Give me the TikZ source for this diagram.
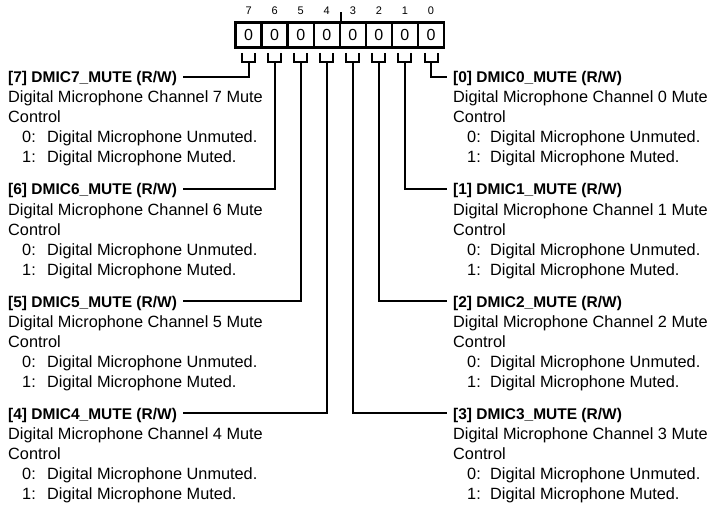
\documentclass[tikz,border=0pt]{standalone}
\usepackage{fontspec}
\setmainfont{Liberation Sans}
\begin{document}
\begin{tikzpicture}[x=1pt,y=-1pt,
  cellbox/.style={draw,line width=2.4pt,minimum width=26.06pt,minimum height=25pt,inner sep=0pt,font=\fontsize{16}{18}\selectfont},
  bitnum/.style={inner sep=0pt,font=\fontsize{11}{13}\selectfont},
  hdr/.style={inner sep=0pt,font=\fontsize{15.5}{18}\selectfont\bfseries},
  desc/.style={inner sep=0pt,font=\fontsize{16.3}{20}\selectfont},
  wire/.style={line width=2pt},
  brk/.style={line width=2pt}]
\useasboundingbox (0,0) rectangle (710,508);
% register cells
\foreach \b in {0,...,7}{
  \pgfmathsetmacro{\cx}{431-26.06*\b}
  \node[cellbox] (c\b) at (\cx,35.2) {0};
  \node[bitnum] (n\b) at (\cx,11) {\b};
  \coordinate (br\b) at (\cx,62);
  \draw[brk] (\cx-6.5,53) -- (\cx-6.5,62) -- (\cx+6.5,62) -- (\cx+6.5,53);
}
\draw[line width=1.3pt] (c4.north east) -- ++(0,-9);
% left fields: bits 7..4 ; right fields: bits 0..3
\foreach \b/\k in {7/0,6/1,5/2,4/3}{
  \pgfmathsetmacro{\L}{77+112*\k}
  \pgfmathsetmacro{\cx}{431-26.06*\b}
  \coordinate (l\b) at (\cx,\L);
  \node[hdr,anchor=base west] (h\b) at (8,\L+6) {[\b] DMIC\b\_MUTE (R/W)};
  \node[desc,anchor=base west] (d\b) at (8,\L+26) {Digital Microphone Channel \b{} Mute};
  \node[desc,anchor=base west] (t\b) at (8,\L+46) {Control};
  \node[desc,anchor=base west] (z\b) at (22,\L+66) {\makebox[25pt][l]{0:}Digital Microphone Unmuted.};
  \node[desc,anchor=base west] (o\b) at (22,\L+86) {\makebox[25pt][l]{1:}Digital Microphone Muted.};
  \draw[wire] (br\b) -- (l\b) -- ([xshift=6pt]h\b.east |- l\b);
}
\foreach \b/\k in {0/0,1/1,2/2,3/3}{
  \pgfmathsetmacro{\L}{77+112*\k}
  \pgfmathsetmacro{\cx}{431-26.06*\b}
  \coordinate (l\b) at (\cx,\L);
  \node[hdr,anchor=base west] (h\b) at (453,\L+6) {[\b] DMIC\b\_MUTE (R/W)};
  \node[desc,anchor=base west] (d\b) at (453,\L+26) {Digital Microphone Channel \b{} Mute};
  \node[desc,anchor=base west] (t\b) at (453,\L+46) {Control};
  \node[desc,anchor=base west] (z\b) at (467,\L+66) {\makebox[23pt][l]{0:}Digital Microphone Unmuted.};
  \node[desc,anchor=base west] (o\b) at (467,\L+86) {\makebox[23pt][l]{1:}Digital Microphone Muted.};
  \draw[wire] (br\b) -- (l\b) -- ([xshift=-6pt]h\b.west |- l\b);
}
\end{tikzpicture}
\end{document}
